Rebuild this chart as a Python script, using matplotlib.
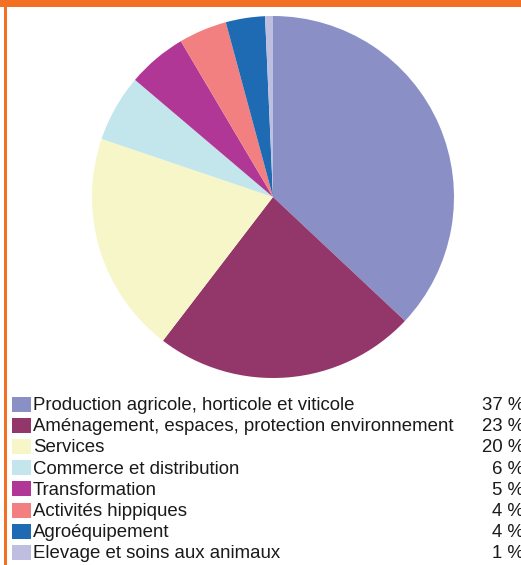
import matplotlib.pyplot as plt
from matplotlib.patches import Rectangle

plt.rcParams['font.family'] = ['Liberation Sans', 'DejaVu Sans']

labels = ['Production agricole, horticole et viticole',
          'Aménagement, espaces, protection environnement',
          'Services',
          'Commerce et distribution',
          'Transformation',
          'Activités hippiques',
          'Agroéquipement',
          'Elevage et soins aux animaux']
values = [37.0, 23.4, 19.8, 6.0, 5.3, 4.3, 3.5, 0.7]
shown = ['37 %', '23 %', '20 %', '6 %', '5 %', '4 %', '4 %', '1 %']
colors = ['#8a8fc6', '#93366a', '#f7f6c8', '#c3e6ec',
          '#b03795', '#f28080', '#1e6ab3', '#bdbee0']

W, H = 521, 565
fig = plt.figure(figsize=(W / 100, H / 100), dpi=100)
fig.patch.set_facecolor('white')

# pie
cx, cy, r = 273, 197, 181
ax = fig.add_axes([(cx - r) / W, (H - cy - r) / H, 2 * r / W, 2 * r / H])
ax.pie(values, colors=colors, startangle=90, counterclock=False,
       radius=1, wedgeprops=dict(linewidth=0))
ax.set_xlim(-1, 1)
ax.set_ylim(-1, 1)
ax.set_aspect('equal')
ax.axis('off')

# orange frame
orange = '#f36f21'
fig.add_artist(Rectangle((0, 1 - 7 / H), 1, 7 / H, transform=fig.transFigure,
                         color=orange, lw=0))
fig.add_artist(Rectangle((4 / W, 0), 2.5 / W, 1, transform=fig.transFigure,
                         color=orange, lw=0))

# legend
y0, step = 404, 21.2
for i, (lab, col, pct) in enumerate(zip(labels, colors, shown)):
    y = y0 + i * step
    fig.add_artist(Rectangle((12 / W, 1 - (y + 7.5) / H), 19 / W, 15 / H,
                             transform=fig.transFigure, color=col, lw=0))
    fig.text(33 / W, 1 - (y + 1.5) / H, lab, fontsize=13.4, color='#1a1a1a',
             ha='left', va='center')
    fig.text(524 / W, 1 - (y + 1.5) / H, pct, fontsize=13.4, color='#1a1a1a',
             ha='right', va='center')

fig.savefig('out.png', dpi=100)
